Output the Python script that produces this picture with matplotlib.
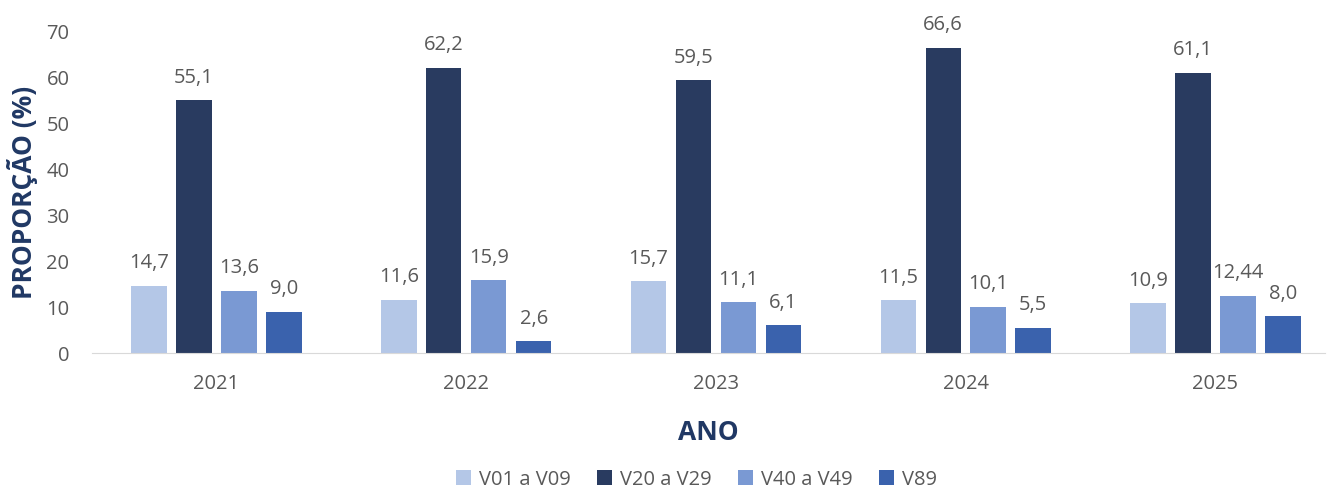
import numpy as np
import matplotlib.pyplot as plt

plt.rcParams['font.family'] = ['Open Sans', 'DejaVu Sans']

anos = ['2021', '2022', '2023', '2024', '2025']
series = ['V01 a V09', 'V20 a V29', 'V40 a V49', 'V89']
v01 = [14.7, 11.6, 15.7, 11.5, 10.9]
v20 = [55.1, 62.2, 59.5, 66.6, 61.1]
v40 = [13.6, 15.9, 11.1, 10.1, 12.44]
v89 = [9.0, 2.6, 6.1, 5.5, 8.0]
rotulos = [
    ['14,7', '11,6', '15,7', '11,5', '10,9'],
    ['55,1', '62,2', '59,5', '66,6', '61,1'],
    ['13,6', '15,9', '11,1', '10,1', '12,44'],
    ['9,0', '2,6', '6,1', '5,5', '8,0'],
]
cores = ['#B4C7E7', '#293B60', '#7A99D3', '#3A62AD']
navy = '#203864'
cinza = '#595959'

fig = plt.figure(figsize=(13.28, 4.92), dpi=100)
ax = fig.add_axes([0.069, 0.2825, 0.929, 0.6525])

x = np.arange(len(anos))
w, passo = 0.142, 0.18
for i, (vals, nome, cor) in enumerate(zip([v01, v20, v40, v89], series, cores)):
    pos = x + (i - 1.5) * passo
    bars = ax.bar(pos, vals, width=w, color=cor, label=nome, zorder=2)
    ax.bar_label(bars, labels=rotulos[i], padding=9, fontsize=14.5, color=cinza)

ax.set_xlim(-0.5, 4.44)
ax.set_ylim(0, 70)
ax.set_yticks(range(0, 71, 10))
ax.set_xticks(x, anos)
for s in ['top', 'right', 'left']:
    ax.spines[s].set_visible(False)
ax.spines['bottom'].set_color('#D9D9D9')
ax.tick_params(axis='both', length=0, labelsize=14.5, labelcolor=cinza)
ax.tick_params(axis='y', pad=16)
ax.tick_params(axis='x', pad=15)

ax.set_ylabel('PROPORÇÃO (%)', fontsize=19, fontweight='bold', color=navy, labelpad=6)
ax.set_xlabel('ANO', fontsize=19, fontweight='bold', color=navy, labelpad=18)
ax.legend(loc='center', bbox_to_anchor=(0.49, -0.395), ncol=4, frameon=False,
          fontsize=14.5, labelcolor=cinza, handlelength=0.75, handleheight=0.75,
          handletextpad=0.4, columnspacing=1.3)

fig.savefig('out.png', dpi=100)
